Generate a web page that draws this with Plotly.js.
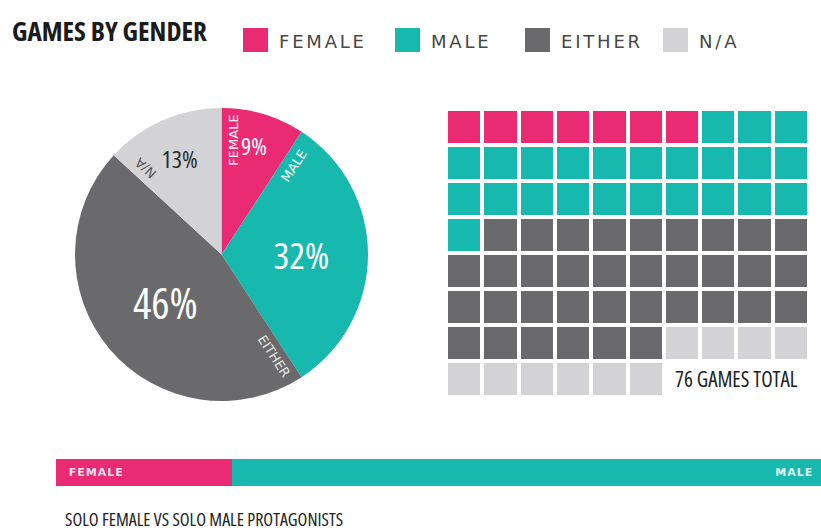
<!DOCTYPE html>
<html><head><meta charset="utf-8">
<script src="https://cdn.plot.ly/plotly-3.0.1.min.js"></script>
<style>
html,body{margin:0;padding:0;background:#fff}
text[style*="Open Sans"]{font-stretch:condensed}
text[style*="Verdana"]{letter-spacing:2.8px}
text[style*="Tahoma"]{letter-spacing:1px}
</style>
</head><body><div id="chart" style="width:821px;height:531px"></div>
<script>
// ---- data ----
const categories = ["FEMALE", "MALE", "EITHER", "N/A"];
const gameCounts = [7, 24, 35, 10];          // 76 games total
const colors = ["#EA2A72", "#17B8AE", "#6A6A6D", "#D3D3D5"];
const soloLabels = ["FEMALE", "MALE"];
const soloShare = [23, 77];                  // percent
const totalLabel = "76 GAMES TOTAL";
const titleText = "GAMES BY GENDER";
const bottomLabel = "SOLO FEMALE VS SOLO MALE PROTAGONISTS";

// ---- layout helpers ----
const W = 821, H = 531;
const px = x => x / W, py = y => 1 - y / H;
const NARROW = "Open Sans, DejaVu Sans Condensed, sans-serif";
const WIDE = "Verdana, DejaVu Sans, sans-serif";     // legend (letter-spaced)
const BARF = "Tahoma, DejaVu Sans, sans-serif";      // bar labels
const LBL = "DejaVu Sans, sans-serif";

// pie geometry (pixels)
const cx = 221.5, cy = 254.5, R = 146.5;

// waffle grid from counts
const COLS = 10, ROWS = 8;
const flat = [];
gameCounts.forEach((c, i) => { for (let k = 0; k < c; k++) flat.push(i); });
const z = [];
for (let r = 0; r < ROWS; r++) {
  const row = [];
  for (let c = 0; c < COLS; c++) {
    const idx = r * COLS + c;
    row.push(idx < flat.length ? flat[idx] : null);
  }
  z.push(row);
}
const cs = [[0, colors[0]], [1/6, colors[0]], [1/6, colors[1]], [0.5, colors[1]],
            [0.5, colors[2]], [5/6, colors[2]], [5/6, colors[3]], [1, colors[3]]];

const traces = [
  {
    type: "pie", labels: categories, values: gameCounts, sort: false,
    direction: "clockwise", rotation: 0,
    marker: { colors: colors, line: { width: 0 } },
    texttemplate: "%{percent:.0%}", textposition: "inside",
    insidetextorientation: "horizontal",
    textfont: { family: NARROW, size: [24, 37, 43, 24], weight: 500,
                color: ["#ffffff", "#ffffff", "#ffffff", "#2a2a2a"] },
    hoverinfo: "skip", showlegend: false,
    domain: { x: [px(cx - R), px(cx + R)], y: [py(cy + R), py(cy - R)] }
  },
  {
    type: "heatmap", z: z, xaxis: "x3", yaxis: "y3",
    zmin: 0, zmax: 3, colorscale: cs, showscale: false,
    xgap: 4, ygap: 4, hoverinfo: "skip"
  },
  {
    type: "bar", orientation: "h", y: [0], x: [soloShare[0]], xaxis: "x2", yaxis: "y2",
    marker: { color: colors[0] }, width: 1,
    text: ["\u00a0\u00a0" + soloLabels[0]], textposition: "inside", insidetextanchor: "start",
    textfont: { family: BARF, size: 11, color: "#fde3ee", weight: "bold" },
    hoverinfo: "skip", showlegend: false
  },
  {
    type: "bar", orientation: "h", y: [0], x: [soloShare[1]], xaxis: "x2", yaxis: "y2",
    marker: { color: colors[1] }, width: 1,
    text: [soloLabels[1] + "\u00a0"], textposition: "inside", insidetextanchor: "end",
    textfont: { family: BARF, size: 11, color: "#e3f8f6", weight: "bold" },
    hoverinfo: "skip", showlegend: false
  }
];

// pie slice labels along the start edge of each slice
const total = gameCounts.reduce((a, b) => a + b, 0);
const labelColors = ["#ffffff", "#ffffff", "#e4e4e4", "#555555"];
const annotations = [];
let cum = 0;
categories.forEach((cat, i) => {
  const startDeg = cum / total * 360;
  cum += gameCounts[i];
  const th = (startDeg + 6) * Math.PI / 180;
  const r = 115;
  let ang = startDeg - 90;
  if (ang > 180) ang -= 360;
  annotations.push({
    xref: "paper", yref: "paper", x: px(cx + r * Math.sin(th)), y: py(cy - r * Math.cos(th)),
    text: cat, showarrow: false, textangle: ang, xanchor: "center", yanchor: "middle",
    font: { family: LBL, size: 13, color: labelColors[i] }
  });
});

// title
annotations.push({
  xref: "paper", yref: "paper", x: px(10), y: py(31), xanchor: "left", yanchor: "middle",
  text: titleText, showarrow: false,
  font: { family: NARROW, size: 27, color: "#1b1b1b", weight: 700 }
});
// legend (swatches + labels)
const legendX = [243, 395, 525, 663];
const shapes = [];
categories.forEach((cat, i) => {
  shapes.push({ type: "rect", xref: "paper", yref: "paper",
    x0: px(legendX[i]), x1: px(legendX[i] + 25), y0: py(52), y1: py(28),
    fillcolor: colors[i], line: { width: 0 } });
  annotations.push({ xref: "paper", yref: "paper", x: px(legendX[i] + 34), y: py(41),
    xanchor: "left", yanchor: "middle", text: cat, showarrow: false,
    font: { family: WIDE, size: 18, color: "#474747" } });
});
// waffle total label
annotations.push({
  xref: "x3", yref: "y3", x: 9.5, y: 7, xanchor: "right", yanchor: "middle", xshift: -9,
  text: totalLabel, showarrow: false,
  font: { family: NARROW, size: 21, color: "#222222", weight: 500 }
});
// bottom label
annotations.push({
  xref: "paper", yref: "paper", x: px(63), y: py(519), xanchor: "left", yanchor: "middle",
  text: bottomLabel, showarrow: false,
  font: { family: NARROW, size: 18, color: "#222222", weight: 500 }
});

const hidden = { visible: false, showgrid: false, zeroline: false, fixedrange: true };
const layout = {
  width: W, height: H, margin: { l: 0, r: 0, t: 0, b: 0 },
  paper_bgcolor: "#ffffff", plot_bgcolor: "rgba(0,0,0,0)",
  showlegend: false, barmode: "stack", bargap: 0,
  xaxis: Object.assign({}, hidden, { domain: [0, 0.01] }),
  yaxis: Object.assign({}, hidden, { domain: [0, 0.01] }),
  xaxis2: Object.assign({}, hidden, { domain: [px(56), 1], range: [0, soloShare[0] + soloShare[1]], anchor: "y2" }),
  yaxis2: Object.assign({}, hidden, { domain: [py(486), py(459)], range: [-0.5, 0.5], anchor: "x2" }),
  xaxis3: Object.assign({}, hidden, { domain: [px(446), px(809)], range: [-0.5, COLS - 0.5], anchor: "y3" }),
  yaxis3: Object.assign({}, hidden, { domain: [py(397), py(109)], range: [ROWS - 0.5, -0.5], anchor: "x3" }),
  shapes: shapes, annotations: annotations
};
Plotly.newPlot("chart", traces, layout, { staticPlot: true, displayModeBar: false });
</script></body></html>
